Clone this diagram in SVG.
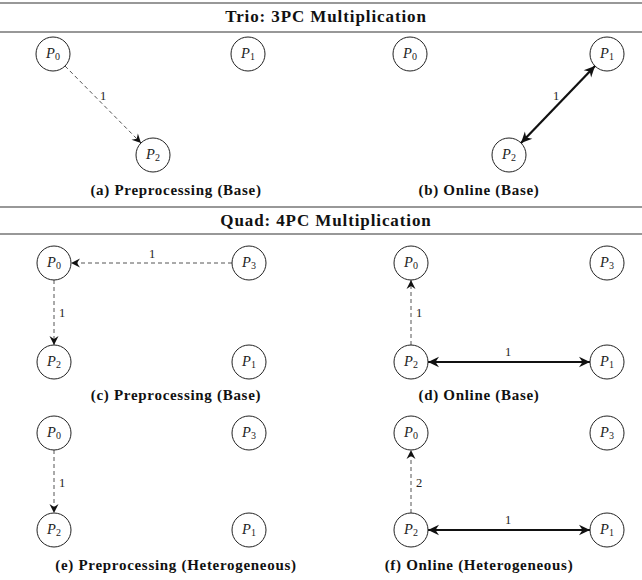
<svg xmlns="http://www.w3.org/2000/svg" width="642" height="580" viewBox="0 0 642 580">
<defs>
<style>
.rule{stroke:#333;stroke-width:1.2}
.title{font-family:"Liberation Serif",serif;font-weight:bold;font-size:17px;letter-spacing:0.9px;fill:#111;text-anchor:middle}
.cap{font-family:"Liberation Serif",serif;font-weight:bold;font-size:15px;letter-spacing:0.7px;fill:#111;text-anchor:middle}
.node circle{fill:#fff;stroke:#222;stroke-width:1}
.node text{font-family:"Liberation Serif",serif;font-size:14.5px;fill:#222;text-anchor:middle}
.p{font-style:italic}
.sub{font-size:10px}
.lbl{font-family:"Liberation Serif",serif;font-size:12.5px;fill:#222}
.dash{stroke:#555;stroke-width:1;stroke-dasharray:4,3;fill:none}
.thick{stroke:#111;stroke-width:2.2;fill:none}
</style>
<marker id="ah" markerUnits="userSpaceOnUse" viewBox="-10 -5 11 10" refX="0" refY="0" markerWidth="11" markerHeight="10" orient="auto">
<path d="M0,0 L-9,-4.5 L-6,0 L-9,4.5 Z" fill="#111"/>
</marker>
<marker id="tk" markerUnits="userSpaceOnUse" viewBox="-12 -6 13 12" refX="0" refY="0" markerWidth="13" markerHeight="12" orient="auto-start-reverse">
<path d="M0,0 L-11,-5.2 L-7.5,0 L-11,5.2 Z" fill="#111"/>
</marker>
</defs>
<rect width="642" height="580" fill="#fff"/>

<g id="frame">
<line class="rule" x1="0" y1="3" x2="642" y2="3" stroke-width="1.8"/>
<text class="title" x="326" y="22">Trio: 3PC Multiplication</text>
<line class="rule" x1="0" y1="32" x2="642" y2="32"/>
<line class="rule" x1="0" y1="207" x2="642" y2="207"/>
<text class="title" x="326" y="226">Quad: 4PC Multiplication</text>
<line class="rule" x1="0" y1="234" x2="642" y2="234"/>
</g>

<g id="captions">
<text class="cap" x="176" y="195">(a) Preprocessing (Base)</text>
<text class="cap" x="479" y="195">(b) Online (Base)</text>
<text class="cap" x="176" y="400">(c) Preprocessing (Base)</text>
<text class="cap" x="479" y="400">(d) Online (Base)</text>
<text class="cap" x="176" y="570">(e) Preprocessing (Heterogeneous)</text>
<text class="cap" x="479" y="570">(f) Online (Heterogeneous)</text>
</g>

<g id="connectors">
<line class="dash" x1="65" y1="66" x2="141" y2="143" marker-end="url(#ah)"/>
<line class="thick" x1="521" y1="143" x2="595" y2="66" marker-start="url(#tk)" marker-end="url(#tk)"/>
<line class="dash" x1="232" y1="263" x2="71" y2="263" marker-end="url(#ah)"/>
<line class="dash" x1="54" y1="280" x2="54" y2="345" marker-end="url(#ah)"/>
<line class="dash" x1="411" y1="345" x2="411" y2="280" marker-end="url(#ah)"/>
<line class="thick" x1="428" y1="362" x2="590" y2="362" marker-start="url(#tk)" marker-end="url(#tk)"/>
<line class="dash" x1="54" y1="450" x2="54" y2="513" marker-end="url(#ah)"/>
<line class="dash" x1="411" y1="513" x2="411" y2="450" marker-end="url(#ah)"/>
<line class="thick" x1="428" y1="530" x2="590" y2="530" marker-start="url(#tk)" marker-end="url(#tk)"/>
<text class="lbl" x="100" y="100">1</text>
<text class="lbl" x="553" y="100">1</text>
<text class="lbl" x="149" y="258">1</text>
<text class="lbl" x="59" y="317">1</text>
<text class="lbl" x="416" y="317">1</text>
<text class="lbl" x="505" y="356">1</text>
<text class="lbl" x="59" y="487">1</text>
<text class="lbl" x="416" y="487">2</text>
<text class="lbl" x="505" y="524">1</text>
</g>

<g id="a_P0" class="node"><circle cx="53" cy="54" r="17"/><text x="53" y="58"><tspan class="p">P</tspan><tspan class="sub" dy="2">0</tspan></text></g>
<g id="a_P1" class="node"><circle cx="248" cy="54" r="17"/><text x="248" y="58"><tspan class="p">P</tspan><tspan class="sub" dy="2">1</tspan></text></g>
<g id="a_P2" class="node"><circle cx="153" cy="155" r="17"/><text x="153" y="159"><tspan class="p">P</tspan><tspan class="sub" dy="2">2</tspan></text></g>

<g id="b_P0" class="node"><circle cx="410" cy="54" r="17"/><text x="410" y="58"><tspan class="p">P</tspan><tspan class="sub" dy="2">0</tspan></text></g>
<g id="b_P1" class="node"><circle cx="607" cy="54" r="17"/><text x="607" y="58"><tspan class="p">P</tspan><tspan class="sub" dy="2">1</tspan></text></g>
<g id="b_P2" class="node"><circle cx="509" cy="155" r="17"/><text x="509" y="159"><tspan class="p">P</tspan><tspan class="sub" dy="2">2</tspan></text></g>

<g id="c_P0" class="node"><circle cx="54" cy="263" r="17"/><text x="54" y="267"><tspan class="p">P</tspan><tspan class="sub" dy="2">0</tspan></text></g>
<g id="c_P3" class="node"><circle cx="249" cy="263" r="17"/><text x="249" y="267"><tspan class="p">P</tspan><tspan class="sub" dy="2">3</tspan></text></g>
<g id="c_P2" class="node"><circle cx="54" cy="362" r="17"/><text x="54" y="366"><tspan class="p">P</tspan><tspan class="sub" dy="2">2</tspan></text></g>
<g id="c_P1" class="node"><circle cx="249" cy="362" r="17"/><text x="249" y="366"><tspan class="p">P</tspan><tspan class="sub" dy="2">1</tspan></text></g>

<g id="d_P0" class="node"><circle cx="411" cy="263" r="17"/><text x="411" y="267"><tspan class="p">P</tspan><tspan class="sub" dy="2">0</tspan></text></g>
<g id="d_P3" class="node"><circle cx="607" cy="263" r="17"/><text x="607" y="267"><tspan class="p">P</tspan><tspan class="sub" dy="2">3</tspan></text></g>
<g id="d_P2" class="node"><circle cx="411" cy="362" r="17"/><text x="411" y="366"><tspan class="p">P</tspan><tspan class="sub" dy="2">2</tspan></text></g>
<g id="d_P1" class="node"><circle cx="607" cy="362" r="17"/><text x="607" y="366"><tspan class="p">P</tspan><tspan class="sub" dy="2">1</tspan></text></g>

<g id="e_P0" class="node"><circle cx="54" cy="433" r="17"/><text x="54" y="437"><tspan class="p">P</tspan><tspan class="sub" dy="2">0</tspan></text></g>
<g id="e_P3" class="node"><circle cx="249" cy="433" r="17"/><text x="249" y="437"><tspan class="p">P</tspan><tspan class="sub" dy="2">3</tspan></text></g>
<g id="e_P2" class="node"><circle cx="54" cy="530" r="17"/><text x="54" y="534"><tspan class="p">P</tspan><tspan class="sub" dy="2">2</tspan></text></g>
<g id="e_P1" class="node"><circle cx="249" cy="530" r="17"/><text x="249" y="534"><tspan class="p">P</tspan><tspan class="sub" dy="2">1</tspan></text></g>

<g id="f_P0" class="node"><circle cx="411" cy="433" r="17"/><text x="411" y="437"><tspan class="p">P</tspan><tspan class="sub" dy="2">0</tspan></text></g>
<g id="f_P3" class="node"><circle cx="607" cy="433" r="17"/><text x="607" y="437"><tspan class="p">P</tspan><tspan class="sub" dy="2">3</tspan></text></g>
<g id="f_P2" class="node"><circle cx="411" cy="530" r="17"/><text x="411" y="534"><tspan class="p">P</tspan><tspan class="sub" dy="2">2</tspan></text></g>
<g id="f_P1" class="node"><circle cx="607" cy="530" r="17"/><text x="607" y="534"><tspan class="p">P</tspan><tspan class="sub" dy="2">1</tspan></text></g>
</svg>
